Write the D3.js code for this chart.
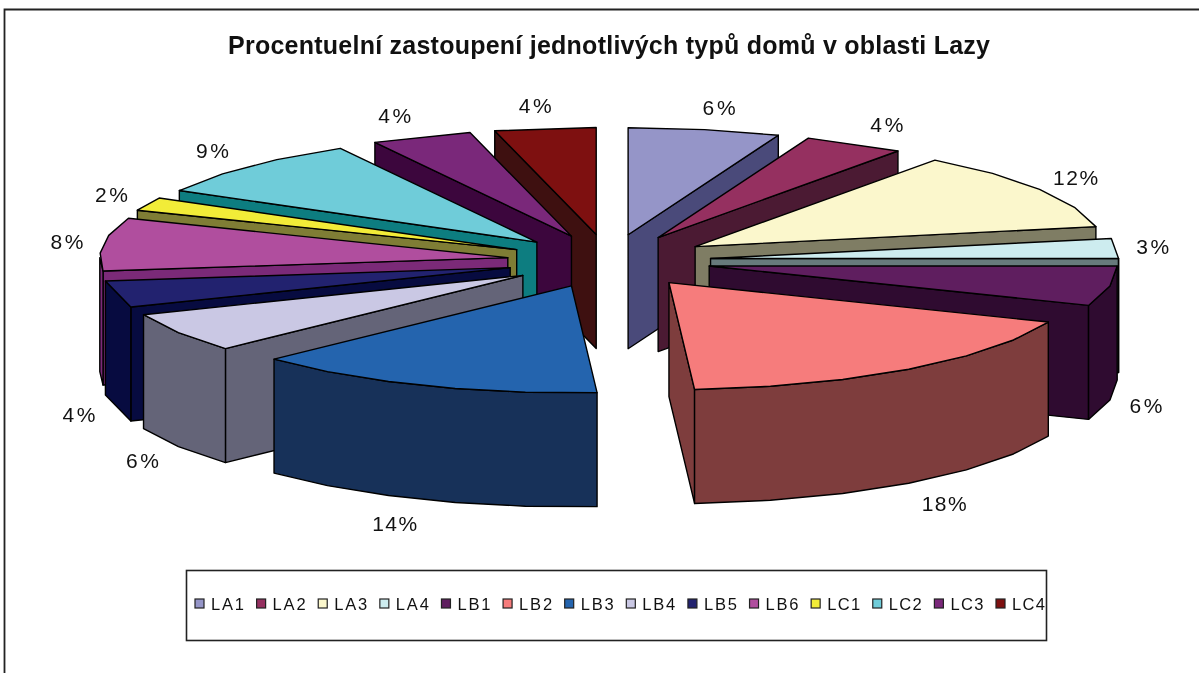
<!DOCTYPE html>
<html><head><meta charset="utf-8">
<script src="https://cdn.jsdelivr.net/npm/d3@7"></script>
<style>
html,body{margin:0;padding:0;background:#fff;overflow:hidden}
svg{display:block;filter:blur(0.5px)}
text{font-family:"Liberation Sans",Arial,sans-serif;fill:#111}
</style></head><body>
<svg id="c" width="1199" height="673"></svg>
<script>
const chartTitle = "Procentuelní zastoupení jednotlivých typů domů v oblasti Lazy";
const categories = ["LA1","LA2","LA3","LA4","LB1","LB2","LB3","LB4","LB5","LB6","LC1","LC2","LC3","LC4"];
const percents   = [6,4,12,3,6,18,14,6,4,8,2,9,4,4];
const topColors  = ["#9595c8","#953060","#fbf7cc","#cdecef","#5f1e5f","#f67c7c","#2464ae","#cac8e4","#22226f","#b04e9e","#f2ec38","#6fccd9","#7a287a","#7e1010"];
const sideColors = ["#4a4a7a","#4b1a33","#7f7d64","#677a7c","#2f0b30","#7e3d3d","#173159","#646478","#070b40","#7b2a78","#7f7d35","#0d7d80","#3c063d","#3e1010"];

const svg = d3.select("#c");
const cx = 609, cy = 261, rx = 408, ry = 107, depth = 114, explode = 0.25;
const TAU = Math.PI * 2, RIM_STEP = 10 * Math.PI / 180;

// frame
svg.append("path").attr("d", "M4.5,673V9.5H1199").attr("fill","none").attr("stroke","#222").attr("stroke-width",1.8);

// title
svg.append("text").attr("x",609).attr("y",54).attr("text-anchor","middle")
  .attr("font-size",25).attr("font-weight","bold").attr("textLength",762).attr("lengthAdjust","spacing").text(chartTitle);

const arcs = d3.pie().sort(null).startAngle(0).endAngle(TAU)(percents)
  .map((a,i)=>({...a, i, mid:(a.startAngle+a.endAngle)/2}));

const px = d3.scaleLinear().domain([-1,1]).range([cx-rx,cx+rx]);
const py = d3.scaleLinear().domain([-1,1]).range([cy-ry,cy+ry]);
const line = d3.line().curve(d3.curveLinearClosed);
const at = (r,a,ox=0,oy=0)=>[px(ox+r*Math.sin(a)), py(oy-r*Math.cos(a))];

function rimAngles(a0,a1){
  const n = Math.max(1,Math.round((a1-a0)/RIM_STEP));
  return d3.range(n+1).map(k=>a0+(a1-a0)*k/n);
}

const order = arcs.slice().sort((a,b)=>Math.cos(b.mid)-Math.cos(a.mid));
const g = svg.append("g").attr("stroke","#000").attr("stroke-width",1.4).attr("stroke-linejoin","round");

order.forEach(d=>{
  const ox = explode*Math.sin(d.mid), oy = -explode*Math.cos(d.mid);
  const apex = at(0,0,ox,oy);
  const down = p=>[p[0],p[1]+depth];
  const wall = pts=>g.append("path").attr("d",line(pts)).attr("fill",sideColors[d.i]);
  const a0=d.startAngle, a1=d.endAngle;
  // cut walls
  if (a0>Math.PI && a0<TAU){ const e=at(1,a0,ox,oy); wall([apex,e,down(e),down(apex)]); }
  if (a1>0 && a1<Math.PI){ const e=at(1,a1,ox,oy); wall([apex,e,down(e),down(apex)]); }
  // outer wall on the front half
  const lo=Math.max(a0,Math.PI/2), hi=Math.min(a1,Math.PI*1.5);
  if (hi>lo){
    const pts=rimAngles(lo,hi).map(a=>at(1,a,ox,oy));
    wall(pts.concat(pts.slice().reverse().map(down)));
  }
  // top face
  g.append("path").attr("d",line([apex,...rimAngles(a0,a1).map(a=>at(1,a,ox,oy))])).attr("fill",topColors[d.i]);
});

// percent labels
arcs.forEach(d=>{
  const s=Math.sin(d.mid), c=Math.cos(d.mid);
  const rim=at(1+explode,d.mid);
  const spread=Math.sin(Math.min(Math.PI/2,2.2*Math.asin(Math.abs(s))));
  const x=rim[0]+Math.sign(s)*36*spread;
  const y=rim[1]+(c<0?depth:0)-(c<0?25:23)*c;
  svg.append("text").attr("x",x).attr("y",y+8).attr("text-anchor","middle")
    .attr("font-size",21).attr("textLength",d.value>=10?45:33).attr("lengthAdjust","spacing").text(d.value+"%");
});

// legend
svg.append("rect").attr("x",186.5).attr("y",570.5).attr("width",860).attr("height",70).attr("fill","#fff").attr("stroke","#222").attr("stroke-width",1.6);
const lx=d3.scalePoint().domain(categories).range([195,996]);
const items=svg.selectAll("g.li").data(categories).join("g").attr("class","li").attr("transform",d=>`translate(${lx(d)},604)`);
items.append("rect").attr("x",0).attr("y",-5).attr("width",9).attr("height",9).attr("stroke","#222").attr("stroke-width",1.2).attr("fill",(d,i)=>topColors[i]);
items.append("text").attr("x",16).attr("y",6).attr("font-size",16.5).attr("textLength",33).attr("lengthAdjust","spacing").text(d=>d);
</script>
</body></html>
